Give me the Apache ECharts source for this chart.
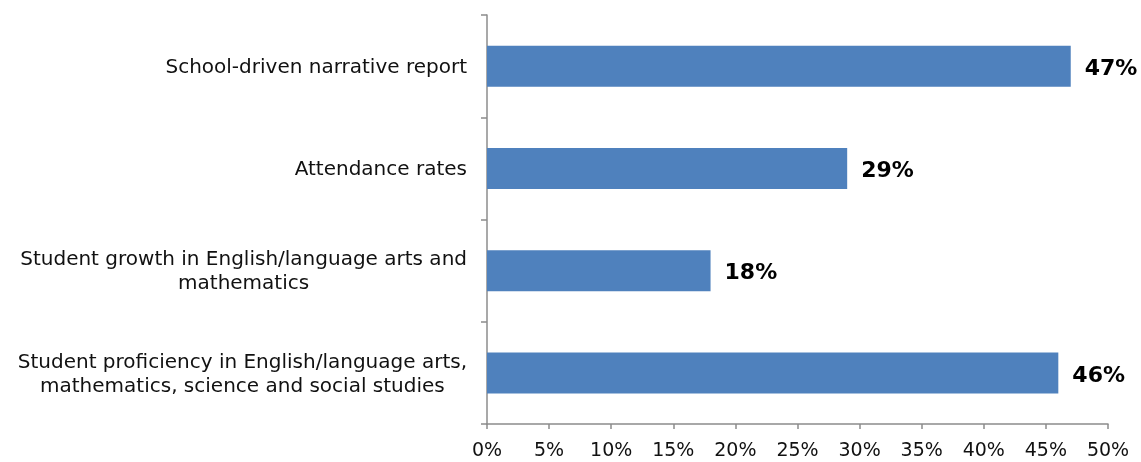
<!DOCTYPE html>
<html>
<head>
<meta charset="utf-8">
<script src="https://cdn.jsdelivr.net/npm/echarts@6/dist/echarts.min.js"></script>
<style>
  html, body { margin: 0; padding: 0; background: #fff; }
  #chart { width: 1141px; height: 462px; }
</style>
</head>
<body>
<div id="chart"></div>
<script>
// Measures, listed top to bottom
const categories = [
  'School-driven narrative report',
  'Attendance rates',
  'Student growth in English/language arts and\nmathematics',
  'Student proficiency in English/language arts,\nmathematics, science and social studies'
];
const shares = [47, 29, 18, 46];
const tickMax = 50;
const tickStep = 5;

const FONT = '"Century Gothic", "DejaVu Sans", sans-serif';
const AXIS_GREY = '#8c8c8c';

const chart = echarts.init(document.getElementById('chart'), null, { renderer: 'canvas' });
chart.setOption({
  animation: false,
  grid: { left: 487, right: 33, top: 15, bottom: 38, containLabel: false },
  xAxis: {
    type: 'value',
    min: 0,
    max: tickMax,
    interval: tickStep,
    axisLine: { show: true, lineStyle: { color: AXIS_GREY, width: 1.5 } },
    axisTick: { show: true, length: 5, lineStyle: { color: AXIS_GREY, width: 1.5 } },
    splitLine: { show: false },
    axisLabel: {
      formatter: v => v + '%',
      fontFamily: FONT,
      fontSize: 19,
      color: '#111',
      margin: 18
    }
  },
  yAxis: {
    type: 'category',
    data: categories,
    inverse: true,
    axisLine: { show: true, lineStyle: { color: AXIS_GREY, width: 1.5 } },
    axisTick: { show: true, length: 6, alignWithLabel: false, lineStyle: { color: AXIS_GREY, width: 1.5 } },
    axisLabel: {
      margin: 20,
      formatter: v => v.split('\n').map(l => '{c|' + l + '}').join('\n'),
      rich: {
        c: {
          align: 'center',
          fontFamily: FONT,
          fontSize: 20,
          lineHeight: 24,
          padding: [3, 0, 0, 0],
          color: '#111'
        }
      }
    }
  },
  series: [{
    type: 'bar',
    data: shares,
    barWidth: 41,
    itemStyle: { color: '#4f81bd' },
    label: {
      show: true,
      position: 'right',
      distance: 14,
      offset: [0, 3],
      formatter: p => p.value + '%',
      fontFamily: FONT,
      fontWeight: 'bold',
      fontSize: 22,
      color: '#000'
    }
  }]
});
</script>
</body>
</html>
